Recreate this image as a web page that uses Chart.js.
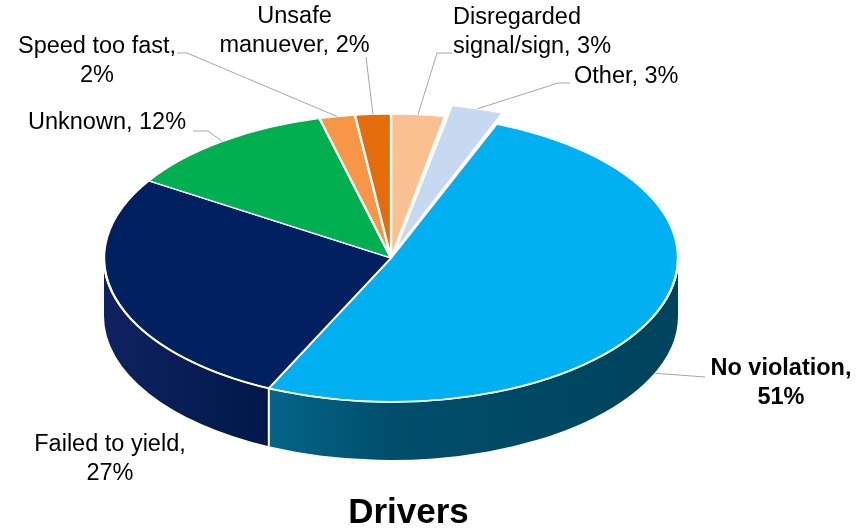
<!DOCTYPE html>
<html>
<head>
<meta charset="utf-8">
<script src="https://cdn.jsdelivr.net/npm/chart.js@4"></script>
<style>
  html, body { margin: 0; padding: 0; background: #fff; }
  canvas { display: block; }
</style>
</head>
<body>
<canvas id="driversPie" width="860" height="528"></canvas>
<script>
// slices, clockwise from 12 o'clock
const categories = ['Disregarded signal/sign', 'Other', 'No violation', 'Failed to yield', 'Unknown', 'Speed too fast', 'Unsafe manuever'];
const shares = [3, 3, 51, 27, 12, 2, 2];
const chartTitle = 'Drivers';

const topColors = ['#FAC090', '#C6D9F1', '#00B0F0', '#002060', '#00B050', '#F79646', '#E46C0A'];
const sideShades = [
    ['#d9a070', '#c08050'], ['#a8b8cc', '#8899ad'], ['#0a84b0', '#004e6c', '#00435c'],
    ['#0f2260', '#001849'], ['#008a3e', '#006a30'], ['#d07a35', '#b06020'], ['#c05a08', '#a04a06']
];
const explode = [0, 42, 0, 0, 0, 0, 0];

// label text placement (line 1 centre y), words on first line, leader elbows
const labelLayout = [
    { x: 453, y: 18, align: 'left', br: 1, leader: [[452, 53], [437, 53]] },
    { x: 574, y: 77, align: 'left', br: 0, leader: [[570, 83], [558, 83]] },
    { x: 781, y: 369, align: 'center', br: 2, bold: true, leader: [[705, 377]], side: true },
    { x: 110, y: 445, align: 'center', br: 3 },
    { x: 28, y: 123, align: 'left', br: 0, leader: [[193, 131], [208, 131]] },
    { x: 97, y: 47, align: 'center', br: 3, leader: [[177, 53], [187, 53]] },
    { x: 294.5, y: 17, align: 'center', br: 1, leader: [[366, 57]] }
];

const pie3d = {
    id: 'pie3d',
    beforeDatasetsDraw(chart, args, opts) {
        const ctx = chart.ctx;
        const arcs = chart.getDatasetMeta(0).data;
        const { cx, cy, rx, ry, depth } = opts;
        // side walls of the front half
        arcs.forEach((arc, i) => {
            if (arc.options.offset) return;
            for (let k = -1; k <= 1; k++) {
                const lo = Math.max(arc.startAngle, k * 2 * Math.PI);
                const hi = Math.min(arc.endAngle, k * 2 * Math.PI + Math.PI);
                if (hi - lo <= 0.0001) continue;
                const x1 = cx + rx * Math.cos(lo), x2 = cx + rx * Math.cos(hi);
                const xa = Math.min(x1, x2, hi > k * 2 * Math.PI + Math.PI / 2 && lo < k * 2 * Math.PI + Math.PI ? cx - rx : x1);
                const xb = Math.max(x1, x2, lo <= k * 2 * Math.PI ? cx + rx : x2);
                const g = ctx.createLinearGradient(xa, 0, xb, 0);
                const shades = sideShades[i];
                shades.forEach((c, j) => g.addColorStop(j / (shades.length - 1), c));
                ctx.beginPath();
                ctx.ellipse(cx, cy, rx, ry, 0, lo, hi);
                ctx.ellipse(cx, cy + depth, rx, ry, 0, hi, lo, true);
                ctx.closePath();
                ctx.fillStyle = g;
                ctx.fill();
            }
        });
        // separators on the side
        ctx.strokeStyle = '#fff';
        ctx.lineWidth = 2;
        arcs.forEach(arc => {
            const a = ((arc.startAngle % (2 * Math.PI)) + 2 * Math.PI) % (2 * Math.PI);
            if (a > 0.01 && a < Math.PI - 0.01) {
                const x = cx + rx * Math.cos(a), y = cy + ry * Math.sin(a);
                ctx.beginPath();
                ctx.moveTo(x, y);
                ctx.lineTo(x, y + depth);
                ctx.stroke();
            }
        });
        // squash the library's pie into the top face
        const a0 = arcs[0];
        ctx.save();
        ctx.translate(cx, cy);
        ctx.scale(rx / a0.outerRadius, ry / a0.outerRadius);
        ctx.translate(-a0.x, -a0.y);
    },
    afterDatasetsDraw(chart, args, opts) {
        const ctx = chart.ctx;
        ctx.restore();
        const { cx, cy, rx, ry } = opts;
        ctx.strokeStyle = '#fff';
        ctx.lineWidth = 2;
        ctx.beginPath();
        ctx.ellipse(cx, cy, rx, ry, 0, 0, Math.PI);
        ctx.stroke();
    },
    afterDraw(chart, args, opts) {
        const ctx = chart.ctx;
        const arcs = chart.getDatasetMeta(0).data;
        const { cx, cy, rx, ry, depth } = opts;
        ctx.save();
        arcs.forEach((arc, i) => {
            const lay = labelLayout[i];
            const mid = (arc.startAngle + arc.endAngle) / 2;
            const R = arc.outerRadius;
            const off = (arc.options.offset || 0) / 4;
            const fix = 1 - Math.sin(Math.min(Math.PI, arc.circumference));
            const rr = (R + off + off * fix) / R;
            let px = cx + rx * rr * Math.cos(mid);
            let py = cy + ry * rr * Math.sin(mid);
            if (lay.side) py += depth;
            if (lay.leader) {
                ctx.strokeStyle = '#a6a6a6';
                ctx.lineWidth = 1;
                ctx.beginPath();
                ctx.moveTo(lay.leader[0][0], lay.leader[0][1]);
                lay.leader.slice(1).forEach(p => ctx.lineTo(p[0], p[1]));
                ctx.lineTo(px, py);
                ctx.stroke();
            }
            const words = `${categories[i]}, ${shares[i]}%`.split(' ');
            const lines = lay.br ? [words.slice(0, lay.br).join(' '), words.slice(lay.br).join(' ')] : [words.join(' ')];
            ctx.fillStyle = '#000';
            ctx.font = `${lay.bold ? 'bold ' : ''}23.5px "Liberation Sans", Arial, sans-serif`;
            ctx.textBaseline = 'middle';
            ctx.textAlign = lay.align;
            lines.forEach((t, j) => ctx.fillText(t, lay.x, lay.y + j * 28.5));
        });
        ctx.font = 'bold 35px "Liberation Sans", Arial, sans-serif';
        ctx.textAlign = 'center';
        ctx.textBaseline = 'alphabetic';
        ctx.fillText(chartTitle, 408.5, 523);
        ctx.restore();
    }
};

new Chart(document.getElementById('driversPie'), {
    type: 'pie',
    data: {
        labels: categories,
        datasets: [{
            data: shares,
            backgroundColor: topColors,
            borderColor: '#fff',
            borderWidth: 2,
            offset: explode
        }]
    },
    options: {
        responsive: false,
        devicePixelRatio: 1,
        animation: false,
        events: [],
        rotation: 0,
        plugins: {
            legend: { display: false },
            tooltip: { enabled: false },
            title: { display: false },
            pie3d: { cx: 391, cy: 258, rx: 287, ry: 144, depth: 58 }
        }
    },
    plugins: [pie3d]
});
</script>
</body>
</html>
